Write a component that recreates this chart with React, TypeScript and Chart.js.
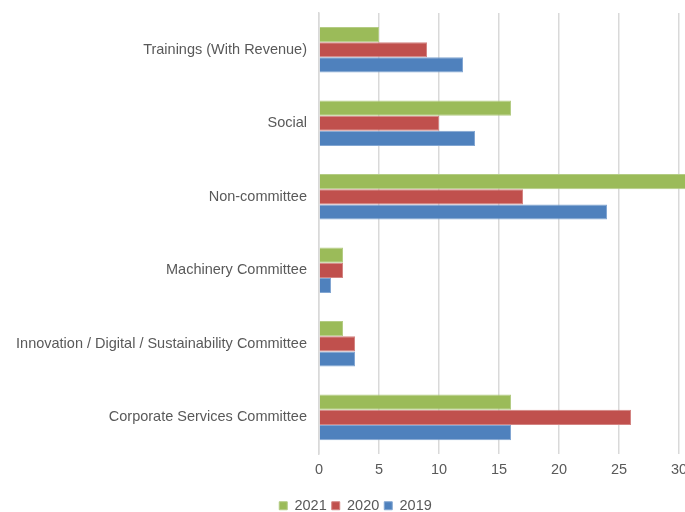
import React, { useEffect, useRef } from "react";
import { Chart, registerables } from "chart.js";

Chart.register(...registerables);

const categories = [
  "Trainings (With Revenue)",
  "Social",
  "Non-committee",
  "Machinery Committee",
  "Innovation / Digital / Sustainability Committee",
  "Corporate Services Committee",
];
const values2021 = [5, 16, 31, 2, 2, 16];
const values2020 = [9, 10, 17, 2, 3, 26];
const values2019 = [12, 13, 24, 1, 3, 16];
const xTickValues = [0, 5, 10, 15, 20, 25, 30];

const FONT = "'Liberation Sans', Arial, sans-serif";
const TEXT = "#595959";

export default function App() {
  const ref = useRef<HTMLCanvasElement | null>(null);
  useEffect(() => {
    if (!ref.current) return;
    const chart = new Chart(ref.current, {
      type: "bar",
      data: {
        labels: categories,
        datasets: [
          { label: "2021", data: values2021, backgroundColor: "#9BBB59", borderColor: "#B4CC84", borderWidth: 1 },
          { label: "2020", data: values2020, backgroundColor: "#C0504D", borderColor: "#D38482", borderWidth: 1 },
          { label: "2019", data: values2019, backgroundColor: "#4F81BD", borderColor: "#82A6D2", borderWidth: 1 },
        ],
      },
      options: {
        indexAxis: "y",
        responsive: false,
        animation: false,
        layout: { padding: { top: 5, left: 0, right: 5, bottom: 0 } },
        datasets: { bar: { categoryPercentage: 0.62, barPercentage: 1 } },
        scales: {
          x: {
            min: 0,
            max: 32,
            afterBuildTicks: (axis: any) => {
              axis.ticks = xTickValues.map((v) => ({ value: v }));
            },
            afterFit: (scale: any) => {
              scale.height += 8;
            },
            grid: { color: "#D9D9D9", lineWidth: 1.5, drawTicks: false },
            border: { display: false },
            ticks: { color: TEXT, font: { family: FONT, size: 14.5 }, padding: 7 },
          },
          y: {
            afterFit: (scale: any) => {
              scale.paddingTop = 0;
              scale.paddingBottom = 0;
              scale.width = 311;
            },
            grid: { display: false, drawTicks: false },
            border: { display: true, color: "#D9D9D9", width: 1.5 },
            ticks: { color: TEXT, font: { family: FONT, size: 14.5 }, padding: 12 },
          },
        },
        plugins: {
          legend: {
            position: "bottom",
            labels: {
              color: TEXT,
              font: { family: FONT, size: 14.5 },
              boxWidth: 8,
              boxHeight: 8,
              padding: 5,
            },
          },
          tooltip: { enabled: false },
        },
      },
    });
    return () => chart.destroy();
  }, []);
  return (
    <div style={{ position: "fixed", left: 8, top: 8, width: 677, height: 504, overflow: "hidden" }}>
      <canvas ref={ref} width={700} height={515} />
    </div>
  );
}
